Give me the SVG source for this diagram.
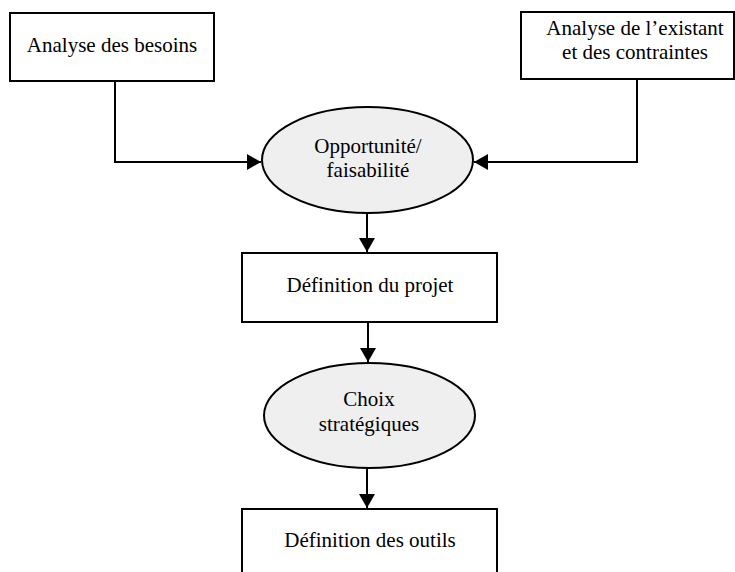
<svg xmlns="http://www.w3.org/2000/svg" width="735" height="572" viewBox="0 0 735 572">
<style>
.box{fill:#ffffff;stroke:#000;stroke-width:2}
.ell{fill:#efefef;stroke:#000;stroke-width:2}
.lbl{font-family:'Liberation Serif','Times New Roman',Times,'DejaVu Serif',serif;font-size:21px;fill:#000;text-anchor:middle}
.con{fill:none;stroke:#000;stroke-width:2}
</style>
<defs>
<marker id="arr" markerUnits="userSpaceOnUse" markerWidth="15" markerHeight="16" refX="14" refY="8" orient="auto">
<path d="M0,0 L14,8 L0,16 z" fill="#000"/>
</marker>
</defs>
<rect width="735" height="572" fill="#fff"/>
<g id="connectors">
<path class="con" d="M115,81 V162 H261" marker-end="url(#arr)"/>
<path class="con" d="M637,79 V162 H474" marker-end="url(#arr)"/>
<path class="con" d="M367,213 V252" marker-end="url(#arr)"/>
<path class="con" d="M368,322 V362" marker-end="url(#arr)"/>
<path class="con" d="M367,468 V508" marker-end="url(#arr)"/>
</g>
<g id="n1">
<rect class="box" x="10" y="13" width="204" height="68"/>
<text class="lbl" font-family="Liberation Serif, serif" x="112" y="52">Analyse des besoins</text>
</g>
<g id="n2">
<rect class="box" x="521" y="12" width="213" height="67"/>
<text class="lbl" font-family="Liberation Serif, serif" x="635" y="35">Analyse de l’existant</text>
<text class="lbl" font-family="Liberation Serif, serif" x="635" y="59">et des contraintes</text>
</g>
<g id="n3">
<ellipse class="ell" cx="367.5" cy="160" rx="105.5" ry="53"/>
<text class="lbl" font-family="Liberation Serif, serif" x="368" y="153">Opportunité/</text>
<text class="lbl" font-family="Liberation Serif, serif" x="368" y="177">faisabilité</text>
</g>
<g id="n4">
<rect class="box" x="242" y="253" width="255" height="69"/>
<text class="lbl" font-family="Liberation Serif, serif" x="370" y="292">Définition du projet</text>
</g>
<g id="n5">
<ellipse class="ell" cx="369.5" cy="415.5" rx="105.5" ry="52.5"/>
<text class="lbl" font-family="Liberation Serif, serif" x="369" y="406">Choix</text>
<text class="lbl" font-family="Liberation Serif, serif" x="369" y="431">stratégiques</text>
</g>
<g id="n6">
<rect class="box" x="242" y="509" width="255" height="80"/>
<text class="lbl" font-family="Liberation Serif, serif" x="370" y="547">Définition des outils</text>
</g>
</svg>
